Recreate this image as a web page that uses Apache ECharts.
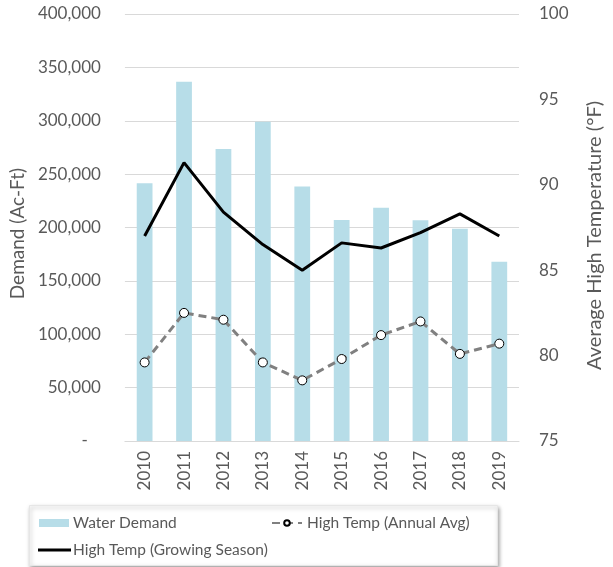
<!DOCTYPE html>
<html><head><meta charset="utf-8">
<script src="https://cdn.jsdelivr.net/npm/echarts@6/dist/echarts.min.js"></script>
<style>html,body{margin:0;padding:0;background:#fff}#c{width:613px;height:567px}</style>
</head><body><div id="c"></div>
<script>
const years = ['2010','2011','2012','2013','2014','2015','2016','2017','2018','2019'];
const waterDemand = [241400, 336600, 273500, 299100, 238400, 207000, 218500, 206700, 198900, 168000];
const annualAvg = [79.6, 82.5, 82.1, 79.6, 78.55, 79.8, 81.2, 82.0, 80.1, 80.7];
const growingSeason = [87.0, 91.3, 88.4, 86.5, 85.0, 86.6, 86.3, 87.2, 88.3, 87.0];

const FONT = 'Lato';
const TXT = '#595959';
const chart = echarts.init(document.getElementById('c'));
chart.setOption({
  animation: false,
  textStyle: {fontFamily: FONT, color: TXT},
  grid: {left: 124, right: 77, top: 14, bottom: 126},
  graphic: [{
    type: 'rect', left: 29, top: 505, shape: {width: 468, height: 60},
    style: {fill: '#fff', stroke: '#e6e6e6', lineWidth: 1, shadowBlur: 4, shadowColor: 'rgba(0,0,0,0.35)', shadowOffsetX: 1, shadowOffsetY: 2},
    z: -1
  }],
  legend: [
    {data: ['Water Demand'], left: 34, top: 510, itemWidth: 30, itemHeight: 8, itemGap: 4,
     textStyle: {fontFamily: FONT, fontSize: 15.5, color: TXT, padding: [0,0,0,-1]}, icon: 'rect'},
    {data: ['High Temp (Annual Avg)'], left: 266, top: 510, itemWidth: 30, itemHeight: 7,
     textStyle: {fontFamily: FONT, fontSize: 15.5, color: TXT, padding: [0,0,0,0]}},
    {data: ['High Temp (Growing Season)'], left: 33, top: 537, itemWidth: 33, itemHeight: 3, icon: 'rect',
     textStyle: {fontFamily: FONT, fontSize: 15.5, color: TXT, padding: [0,0,0,-3]}}
  ],
  xAxis: {
    type: 'category', data: years,
    axisLine: {lineStyle: {color: '#d9d9d9', width: 1}},
    axisTick: {show: false},
    axisLabel: {rotate: 90, fontSize: 17, color: TXT, fontFamily: FONT, margin: 10}
  },
  yAxis: [
    {type: 'value', min: 0, max: 400000, interval: 50000,
     name: 'Demand (Ac-Ft)', nameLocation: 'middle', nameGap: 93,
     nameTextStyle: {fontSize: 19, color: TXT, fontFamily: FONT, padding: [0, 12, 0, 0]},
     axisLabel: {fontSize: 17, color: TXT, fontFamily: FONT, margin: 24,
       formatter: v => v === 0 ? '-   ' : v.toLocaleString('en-US')},
     splitLine: {lineStyle: {color: '#d9d9d9', width: 1}},
     axisLine: {show: false}, axisTick: {show: false}},
    {type: 'value', min: 75, max: 100, interval: 5, position: 'right',
     name: 'Average High Temperature (°F)', nameLocation: 'middle', nameGap: 66,
     nameTextStyle: {fontSize: 20, color: TXT, fontFamily: FONT, padding: [0, 16, 0, 0]},
     axisLabel: {fontSize: 17, color: TXT, fontFamily: FONT, margin: 20},
     splitLine: {show: false}, axisLine: {show: false}, axisTick: {show: false}}
  ],
  series: [
    {name: 'Water Demand', type: 'bar', data: waterDemand, barWidth: '40%',
     itemStyle: {color: '#b7dde8'}},
    {name: 'High Temp (Annual Avg)', type: 'line', yAxisIndex: 1, data: annualAvg,
     symbol: 'circle', symbolSize: 9, showSymbol: true,
     lineStyle: {color: '#808080', width: 3, type: [8, 5]},
     itemStyle: {color: '#ffffff', borderColor: '#000', borderWidth: 1}},
    {name: 'High Temp (Growing Season)', type: 'line', yAxisIndex: 1, data: growingSeason,
     symbol: 'none', lineStyle: {color: '#000', width: 3}, itemStyle: {color: '#000'}}
  ]
});
</script></body></html>
